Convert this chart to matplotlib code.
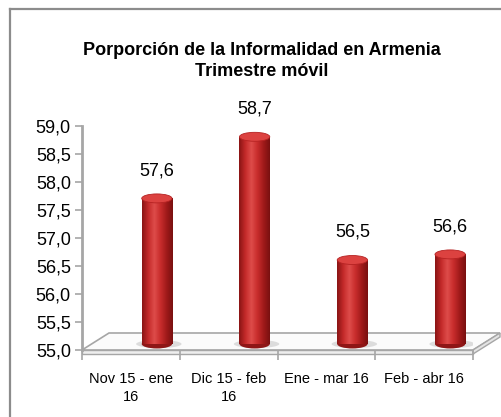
import numpy as np
import matplotlib
matplotlib.use("Agg")
import matplotlib.pyplot as plt
from matplotlib import transforms
from matplotlib.patches import Ellipse, Polygon
from matplotlib.lines import Line2D
from matplotlib.colors import LinearSegmentedColormap

categories = ["Nov 15 - ene\n16", "Dic 15 - feb\n16", "Ene - mar 16", "Feb - abr 16"]
values = [57.6, 58.7, 56.5, 56.6]
value_labels = ["57,6", "58,7", "56,5", "56,6"]
yticks = [55.0, 55.5, 56.0, 56.5, 57.0, 57.5, 58.0, 58.5, 59.0]
ytick_labels = ["55,0", "55,5", "56,0", "56,5", "57,0", "57,5", "58,0", "58,5", "59,0"]
title = "Porporción de la Informalidad en Armenia\nTrimestre móvil"

W, H = 501, 417
plt.rcParams['font.family'] = ['Liberation Sans', 'DejaVu Sans']
fig = plt.figure(figsize=(W / 100, H / 100), dpi=100)

# outer border
fig.add_artist(Line2D([10 / W, 10 / W], [0, 1 - 9 / H], color='#8c8c8c', lw=1.6,
                      transform=fig.transFigure, zorder=-2))
fig.add_artist(Line2D([10 / W, 1], [1 - 9 / H, 1 - 9 / H], color='#8c8c8c', lw=1.6,
                      transform=fig.transFigure, zorder=-2))

ax_l, ax_r, ax_b, ax_t = 82, 473, 350, 126
ax = fig.add_axes([ax_l / W, 1 - ax_b / H, (ax_r - ax_l) / W, (ax_b - ax_t) / H])
ax.set_xlim(-0.5, 3.5)
ax.set_ylim(55, 59)
ax.patch.set_alpha(0)
for s in ['top', 'right', 'bottom']:
    ax.spines[s].set_visible(False)
ax.spines['left'].set_color('#a6a6a6')
ax.spines['left'].set_linewidth(2)
ax.set_yticks(yticks)
ax.set_yticklabels(ytick_labels, fontsize=13)
ax.tick_params(axis='y', direction='out', length=5, color='#a6a6a6', width=1.2, pad=3)
x = np.arange(len(categories))
ax.set_xticks(x)
ax.set_xticklabels(categories, fontsize=10.5, linespacing=1.35)
ax.tick_params(axis='x', length=0, pad=16)
ax.set_xticks(np.arange(len(categories) + 1) - 0.5, minor=True)
ax.tick_params(axis='x', which='minor', length=7, color='#a6a6a6', width=1.2, direction='out')

# floor (slab), depth offset
dx, dy = 27, 17
fx0, fx1 = ax_l / W, ax_r / W
fy = 1 - ax_b / H
ddx, ddy = dx / W, dy / H
th = 4 / H
floor = Polygon([[fx0, fy], [fx1, fy], [fx1 + ddx, fy + ddy], [fx0 + ddx, fy + ddy]],
                closed=True, facecolor='#fbfbfb', edgecolor='#a6a6a6', lw=1.2,
                transform=fig.transFigure, zorder=-1)
fig.add_artist(floor)
slab = Polygon([[fx0, fy], [fx1, fy], [fx1, fy - th], [fx0, fy - th]], closed=True,
               facecolor='#eeeeee', edgecolor='#a6a6a6', lw=1.0, transform=fig.transFigure, zorder=-1)
fig.add_artist(slab)
side = Polygon([[fx1, fy], [fx1 + ddx, fy + ddy], [fx1 + ddx, fy + ddy - th], [fx1, fy - th]], closed=True,
               facecolor='#e4e4e4', edgecolor='#a6a6a6', lw=1.0, transform=fig.transFigure, zorder=-1)
fig.add_artist(side)

# bars as cylinders with depth shift
shift = transforms.offset_copy(ax.transData, fig=fig, x=26, y=6, units='dots')
bw = 0.31
cmap = LinearSegmentedColormap.from_list('cyl', ['#8a1414', '#c42a2a', '#de4c4a', '#c82c2c', '#a01a1a', '#7a1010'])
grad = np.linspace(0, 1, 64).reshape(1, -1)
ell_h = 0.16
for xi, v, lab in zip(x, values, value_labels):
    sh = Ellipse((xi + 0.02, 55.0), bw * 1.5, ell_h * 0.9, transform=shift, facecolor='#cfcfcf',
                 edgecolor='none', alpha=0.7, zorder=2)
    ax.add_patch(sh)
    bot = Ellipse((xi, 55.0), bw, ell_h, transform=shift, facecolor='#8e1616', edgecolor='none', zorder=3)
    ax.add_patch(bot)
    bars = ax.bar([xi], [v - 55.0], bottom=55.0, width=bw, transform=shift,
                  color='#c42a2a', edgecolor='none', zorder=3)
    rect = bars.patches[0]
    im = ax.imshow(grad, cmap=cmap, aspect='auto', extent=[xi - bw / 2, xi + bw / 2, 55.0, v],
                   transform=shift, zorder=3.5, interpolation='bilinear')
    im.set_clip_path(rect)
    top = Ellipse((xi, v), bw, ell_h, transform=shift, facecolor='#dc4240',
                  edgecolor='#b52222', lw=0.6, zorder=4)
    ax.add_patch(top)
    ax.annotate(lab, xy=(xi, v), xycoords=shift, xytext=(0, 20), textcoords='offset points',
                ha='center', va='center', fontsize=13, zorder=5)

ax.set_xlim(-0.5, 3.5)
ax.set_ylim(55, 59)

fig.text(262 / W, 1 - 61 / H, title, ha='center', va='center', fontsize=13, fontweight='bold',
         linespacing=1.25)

fig.savefig('out.png', dpi=100)
